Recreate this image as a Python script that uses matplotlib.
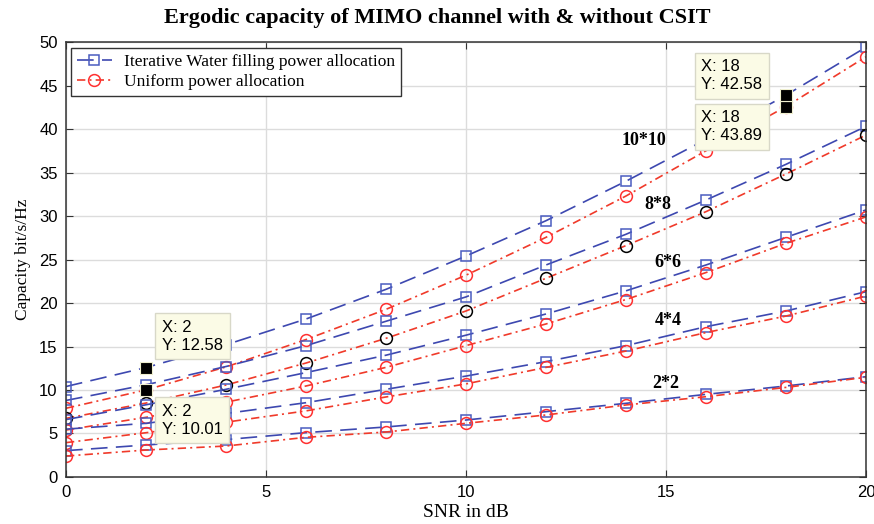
import numpy as np
import matplotlib
matplotlib.use('Agg')
import matplotlib.pyplot as plt

# SNR sweep (dB)
snr = [0, 2, 4, 6, 8, 10, 12, 14, 16, 18, 20]

# Ergodic capacity (bit/s/Hz), water filling vs uniform power
wf_10 = [10.4, 12.58, 15.2, 18.16, 21.57, 25.4, 29.46, 34.0, 38.8, 43.89, 49.4]
up_10 = [7.9, 10.01, 12.65, 15.8, 19.27, 23.2, 27.55, 32.3, 37.5, 42.58, 48.3]
wf_8 = [8.8, 10.6, 12.7, 15.1, 17.9, 20.7, 24.37, 27.9, 31.84, 35.94, 40.3]
up_8 = [6.74, 8.5, 10.57, 13.1, 15.94, 19.08, 22.84, 26.6, 30.5, 34.83, 39.3]
wf_6 = [6.6, 8.3, 10.08, 12.0, 14.0, 16.3, 18.74, 21.4, 24.37, 27.55, 30.7]
up_6 = [5.4, 6.86, 8.6, 10.46, 12.6, 15.1, 17.59, 20.4, 23.5, 26.86, 29.9]
wf_4 = [5.5, 6.17, 7.3, 8.54, 10.08, 11.6, 13.26, 15.1, 17.28, 19.08, 21.3]
up_4 = [3.95, 5.09, 6.3, 7.6, 9.2, 10.7, 12.6, 14.48, 16.6, 18.5, 20.8]
wf_2 = [3.03, 3.68, 4.3, 5.1, 5.75, 6.55, 7.51, 8.47, 9.5, 10.46, 11.53]
up_2 = [2.41, 3.1, 3.56, 4.56, 5.17, 6.17, 7.13, 8.28, 9.23, 10.3, 11.46]

size_labels = ['10*10', '8*8', '6*6', '4*4', '2*2']
label_x = [14.45, 14.8, 15.05, 15.05, 15.0]
label_y = [38.7, 31.3, 24.6, 18.0, 10.8]

# data tips: (x, y)
tips = [(2, 12.58), (2, 10.01), (18, 42.58), (18, 43.89)]

serif = 'Liberation Serif'
sans = 'Liberation Sans'

blue = '#3d48b0'
blue_mk = '#4a5cc0'
red = '#f03a2a'
red_mk = '#ff3030'

fig = plt.figure(figsize=(8.74, 5.24), dpi=100)
ax = fig.add_axes([0.0755, 0.0897, 0.9153, 0.8301])

pairs = [(wf_10, up_10), (wf_8, up_8), (wf_6, up_6), (wf_4, up_4), (wf_2, up_2)]
for i, (wf, up) in enumerate(pairs):
    ax.plot(snr, wf, color=blue, lw=1.2, dashes=(10, 5), marker='s', ms=6.5,
            mfc='none', mec=blue_mk, mew=1.1,
            label='Iterative Water filling power allocation' if i == 0 else None)
    circ = 'black' if size_labels[i] == '8*8' else red_mk
    ax.plot(snr, up, color=red, lw=1.2, dashes=(5, 2.5, 1.2, 2.5), marker='o', ms=8.5,
            mfc='none', mec=circ, mew=1.1,
            label='Uniform power allocation' if i == 0 else None)

for lab, lx, ly in zip(size_labels, label_x, label_y):
    ax.text(lx, ly, lab, family=serif, fontweight='bold', fontsize=13,
            ha='center', va='center')

# data tip markers and boxes
offsets = [(11.5, 34.5), (11.5, -10), (-61, 34), (-61, -10.8)]
for (tx, ty), off in zip(tips, offsets):
    ax.plot(tx, ty, 's', color='black', ms=9, mec='#f0f0d0', mew=0.8, zorder=5)
    ax.annotate(f'X: {tx}\nY: {ty:.2f}', xy=(tx, ty), xytext=off,
                textcoords='offset points', ha='left', va='top',
                family=sans, fontsize=12, linespacing=1.25, zorder=6,
                bbox=dict(boxstyle='square,pad=0.4', fc='#fbfbe6', ec='#d8d8c8', lw=1))

ax.set_xlim(0, 20)
ax.set_ylim(0, 50)
ax.set_xticks([0, 5, 10, 15, 20])
ax.set_yticks(np.arange(0, 51, 5))
ax.grid(True, color='#dcdcdc', lw=1)
ax.set_axisbelow(True)
ax.tick_params(direction='in', top=True, right=True, length=5, labelsize=12,
               color='#333333', pad=6)
for t in ax.get_xticklabels() + ax.get_yticklabels():
    t.set_family(sans)
for s in ax.spines.values():
    s.set_color('#333333')
    s.set_linewidth(1.1)

ax.set_xlabel('SNR in dB', family=serif, fontsize=14, labelpad=3)
ax.set_ylabel('Capacity bit/s/Hz', family=serif, fontsize=12.5, labelpad=6)
fig.text(0.5, 0.966, 'Ergodic capacity of MIMO channel with & without CSIT',
         family=serif, fontweight='bold', fontsize=16, ha='center', va='center')

leg = ax.legend(loc='upper left', bbox_to_anchor=(0.002, 0.995), prop={'family': serif, 'size': 12.5},
                fancybox=False, framealpha=1, edgecolor='#333333', handlelength=2.0,
                handletextpad=0.7, borderpad=0.35, labelspacing=0.25, borderaxespad=0.2)
leg.get_frame().set_linewidth(1.0)

fig.savefig('out.png', dpi=100)
